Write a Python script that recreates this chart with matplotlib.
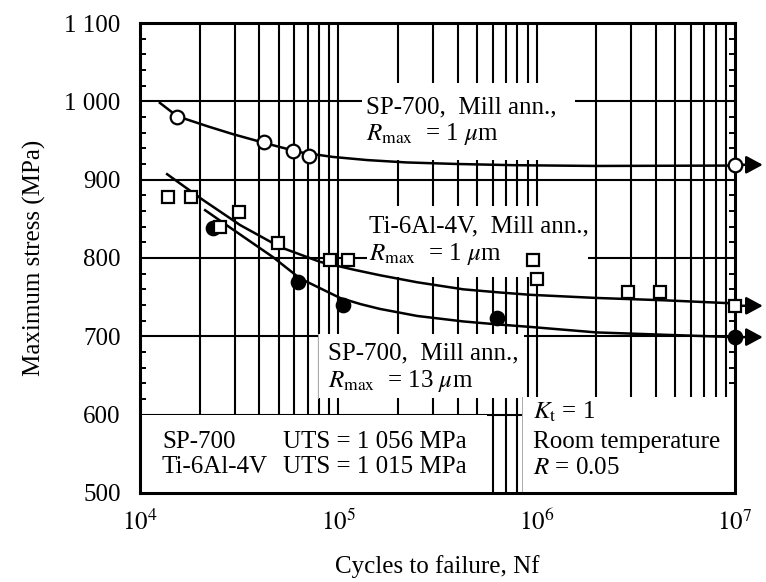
import matplotlib
matplotlib.use("Agg")
import matplotlib.pyplot as plt
from matplotlib.patches import Rectangle
from matplotlib.transforms import offset_copy
from matplotlib.ticker import FixedLocator, NullFormatter

plt.rcParams['font.family'] = ['Liberation Serif', 'DejaVu Serif']
plt.rcParams['mathtext.fontset'] = 'stix'

# ---------------- data ----------------
# SP-700, mill annealed, Rmax = 1 um (open circles)
sp1_n = [1.54e4, 4.2e4, 5.9e4, 7.1e4]
sp1_s = [980, 948, 937, 930]
sp1_run_n = [1e7]
sp1_run_s = [919]
sp1_fit_n = [1.26e4, 1.54e4, 2.2e4, 2.95e4, 4.37e4, 6.4e4, 9.4e4, 1.4e5, 2.2e5, 4e5, 7.6e5, 2e6, 1e7]
sp1_fit_s = [998, 981, 968, 958, 946, 935, 929, 925, 922, 920, 918.5, 917.5, 918]

# Ti-6Al-4V, mill annealed, Rmax = 1 um (open squares)
ti_n = [1.38e4, 1.8e4, 2.53e4, 3.16e4, 4.98e4, 9.1e4, 1.12e5, 9.6e5, 1.0e6, 2.9e6, 4.2e6]
ti_s = [878, 878, 839, 859, 819, 797, 797, 797, 773, 756, 756]
ti_run_n = [1e7]
ti_run_s = [739]
ti_fit_n = [1.37e4, 2.08e4, 3.2e4, 5.08e4, 8.1e4, 1.2e5, 1.62e5, 2.5e5, 4.27e5, 6.5e5, 9.3e5, 2e6, 4.4e6, 1e7]
ti_fit_s = [907, 874, 842, 814, 795, 785, 778, 769, 760, 756, 753, 749, 746, 742]

# SP-700, mill annealed, Rmax = 13 um (filled circles)
sp13_n = [2.33e4, 6.27e4, 1.05e5, 6.3e5]
sp13_s = [838, 769, 740, 723]
sp13_run_n = [1e7]
sp13_run_s = [699]
sp13_fit_n = [2.13e4, 2.84e4, 4.69e4, 6.4e4, 1.02e5, 1.3e5, 1.62e5, 2.5e5, 4.27e5, 6.5e5, 9.3e5, 2e6, 4.4e6, 1e7]
sp13_fit_s = [861, 839, 801, 774, 749, 741, 735, 726, 719, 715, 712, 705, 702, 699]

y_ticks = [500, 600, 700, 800, 900, 1000, 1100]
y_ticklabels = ['500', '600', '700', '800', '900', '1 000', '1 100']
x_ticks = [1e4, 1e5, 1e6, 1e7]
x_ticklabels = [r'$10^{4}$', r'$10^{5}$', r'$10^{6}$', r'$10^{7}$']

# ---------------- figure ----------------
fig = plt.figure(figsize=(7.66, 5.82), dpi=100)
ax = fig.add_axes([140/766, 1-493/582, 595/766, 470/582])
ax.set_xscale('log')
ax.set_xlim(1e4, 1e7)
ax.set_ylim(500, 1100)

FS = 18
# grid lines (drawn manually so that white boxes can hide them)
grid_x = [m * 10**e for e in (4, 5, 6) for m in range(1, 10)][1:]
grid_y = y_ticks[1:-1]
ax.vlines(grid_x, 500, 1100, colors='k', lw=1.5, zorder=1)
ax.hlines(grid_y, 1e4, 1e7, colors='k', lw=1.5, zorder=1)

# white label boxes (x0, x1, y0, y1, faint left edge)
boxes = [
    (1.32e5, 1.56e6, 925, 1023, False),
    (1.40e5, 1.82e6, 776, 867, False),
    (7.9e4, 8.6e5, 621, 703, True),
    (1e4, 5.6e5, 500, 600, False),
    (8.4e5, 1e7, 500, 622, True),
]
for x0, x1, y0, y1, edge in boxes:
    ax.add_patch(Rectangle((x0, y0), x1 - x0, y1 - y0, facecolor='white',
                           edgecolor='none', zorder=2))
    if edge:
        ax.plot([x0, x0], [y0, y1], color='#aaaaaa', lw=0.7, zorder=2.1)

# curves
for fn, fs in [(sp1_fit_n, sp1_fit_s), (ti_fit_n, ti_fit_s), (sp13_fit_n, sp13_fit_s)]:
    ax.plot(fn, fs, color='k', lw=1.8, zorder=4, clip_on=False, solid_joinstyle='round')

# markers
ms = 9.8
ax.plot(sp13_n + sp13_run_n, sp13_s + sp13_run_s, 'o', ms=ms, mfc='k', mec='k', mew=1.5, zorder=5, clip_on=False)
ax.plot(sp1_n + sp1_run_n, sp1_s + sp1_run_s, 'o', ms=ms, mfc='white', mec='k', mew=1.6, zorder=5, clip_on=False)
ax.plot(ti_n + ti_run_n, ti_s + ti_run_s, 's', ms=ms - 0.6, mfc='white', mec='k', mew=1.6, zorder=5, clip_on=False)

# run-out arrows
tip = offset_copy(ax.transData, fig=fig, x=20, y=0, units='points')
for rn, rs in [(sp1_run_n, sp1_run_s), (ti_run_n, ti_run_s), (sp13_run_n, sp13_run_s)]:
    ax.annotate('', xy=(rn[0], rs[0]), xycoords=tip, xytext=(rn[0], rs[0]), textcoords='data',
                arrowprops=dict(arrowstyle='-|>,head_length=0.5,head_width=0.27', color='k', lw=1.8,
                                shrinkA=0, shrinkB=0, mutation_scale=20),
                annotation_clip=False, zorder=4)

# texts
tk = dict(fontsize=FS, ha='left', va='baseline', zorder=6)
ax.text(1.38e5, 984, 'SP-700,  Mill ann.,', **tk)
ax.text(1.38e5, 950, r'$R_{\rm max}$  = 1 $\mu$m', **tk)
ax.text(1.42e5, 832, 'Ti-6Al-4V,  Mill ann.,', **tk)
ax.text(1.42e5, 797, r'$R_{\rm max}$  = 1 $\mu$m', **tk)
ax.text(8.87e4, 671, 'SP-700,  Mill ann.,', **tk)
ax.text(8.87e4, 635, r'$R_{\rm max}$  = 13 $\mu$m', **tk)
ax.text(1.29e4, 558, 'SP-700', **tk)
ax.text(5.26e4, 558, 'UTS = 1 056 MPa', **tk)
ax.text(1.29e4, 525, 'Ti-6Al-4V', **tk)
ax.text(5.26e4, 525, 'UTS = 1 015 MPa', **tk)
ax.text(9.6e5, 595, r'$K_{\rm t}$ = 1', **tk)
ax.text(9.6e5, 558, 'Room temperature', **tk)
ax.text(9.6e5, 524, r'$R$ = 0.05', **tk)

# ticks
ax.set_yticks(y_ticks)
ax.set_yticklabels(y_ticklabels)
ax.yaxis.set_minor_locator(FixedLocator(list(range(500, 1101, 20))))
ax.set_xticks(x_ticks)
ax.set_xticklabels(x_ticklabels)
ax.xaxis.set_minor_locator(FixedLocator(grid_x))
ax.xaxis.set_minor_formatter(NullFormatter())
ax.tick_params(which='both', direction='in', top=True, right=True, width=1.4, labelsize=FS, zorder=3)
ax.tick_params(which='major', length=5)
ax.tick_params(which='minor', length=4)
ax.tick_params(axis='y', pad=14)
ax.tick_params(axis='x', pad=12)
for sp in ax.spines.values():
    sp.set_linewidth(2.2)
    sp.set_zorder(3)

ax.set_ylabel('Maximum stress (MPa)', fontsize=FS)
ax.set_xlabel('Cycles to failure, Nf', fontsize=FS)
ax.yaxis.set_label_coords(-0.158, 0.5)
ax.xaxis.set_label_coords(0.5, -0.133)

fig.savefig('out.png', dpi=100)
